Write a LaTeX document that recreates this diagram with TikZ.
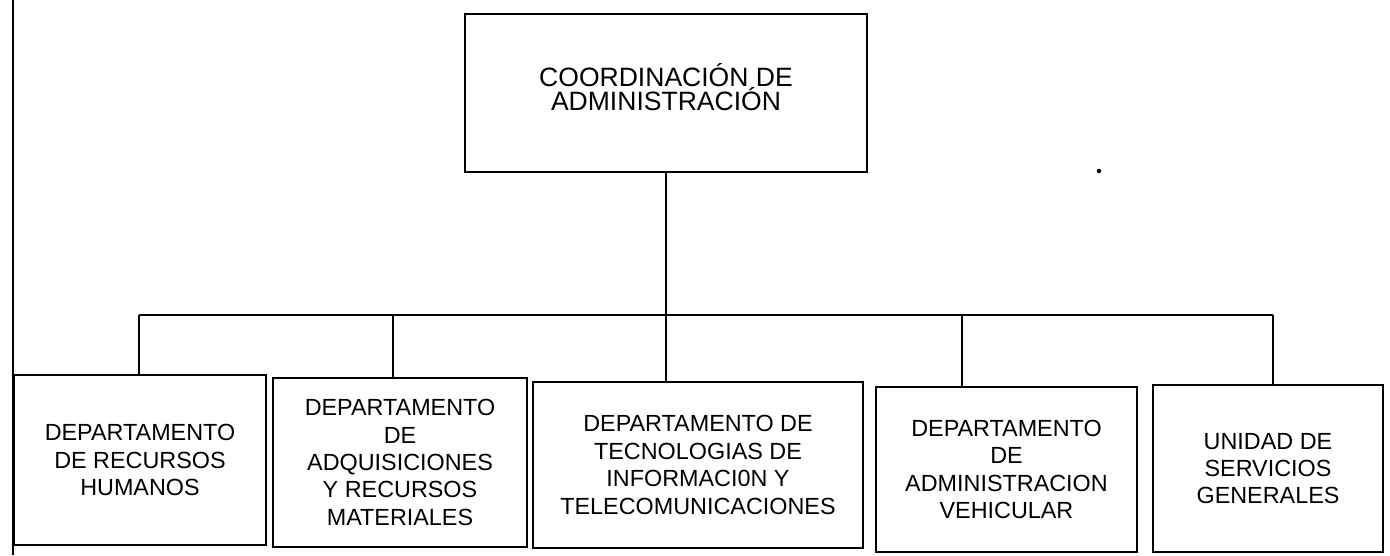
\documentclass[tikz,border=0pt]{standalone}
\usepackage{fontspec}
\setmainfont{Liberation Sans}
\begin{document}
\begin{tikzpicture}[x=0.02cm,y=-0.02cm,
  unitbox/.style={draw,line width=1.6pt,inner sep=0pt,align=center,font=\fontsize{13.3pt}{15.6pt}\selectfont},
  headbox/.style={unitbox,font=\fontsize{15.1pt}{14.2pt}\selectfont},
  link/.style={line width=0.9pt}]
\useasboundingbox (0,0) rectangle (1390,555);
\draw[line width=1.6pt] (13,0) -- (13,555);
\node[headbox,minimum width=8.04cm,minimum height=3.16cm] (coord) at (666,93) {COORDINACIÓN DE\\ADMINISTRACIÓN\rule[-0.24cm]{0pt}{0.24cm}};
\node[unitbox,minimum width=5.04cm,minimum height=3.40cm] (rh) at (140,460) {DEPARTAMENTO\\DE RECURSOS\\HUMANOS};
\node[unitbox,minimum width=5.08cm,minimum height=3.38cm] (adq) at (400,462.5) {DEPARTAMENTO\\DE\\ADQUISICIONES\\Y RECURSOS\\MATERIALES};
\node[unitbox,minimum width=6.60cm,minimum height=3.32cm] (tic) at (698,465) {DEPARTAMENTO DE\\TECNOLOGIAS DE\\INFORMACI0N Y\\TELECOMUNICACIONES};
\node[unitbox,minimum width=5.22cm,minimum height=3.30cm] (veh) at (1006.5,469.5) {DEPARTAMENTO\\DE\\ADMINISTRACION\\VEHICULAR};
\node[unitbox,minimum width=4.60cm,minimum height=3.34cm] (serv) at (1268,468.5) {UNIDAD DE\\SERVICIOS\\GENERALES};
\coordinate (d1) at (139,315);
\coordinate (d2) at (393,315);
\coordinate (d4) at (962,315);
\coordinate (d5) at (1273,315);
\draw[link] (coord.south) -- (coord.south |- tic.north);
\draw[link] (d1) -- (d5);
\draw[link] (d1) -- (d1 |- rh.north);
\draw[link] (d2) -- (d2 |- adq.north);
\draw[link] (d4) -- (d4 |- veh.north);
\draw[link] (d5) -- (d5 |- serv.north);
\fill (1099,171) circle[radius=0.045cm];
\end{tikzpicture}
\end{document}
